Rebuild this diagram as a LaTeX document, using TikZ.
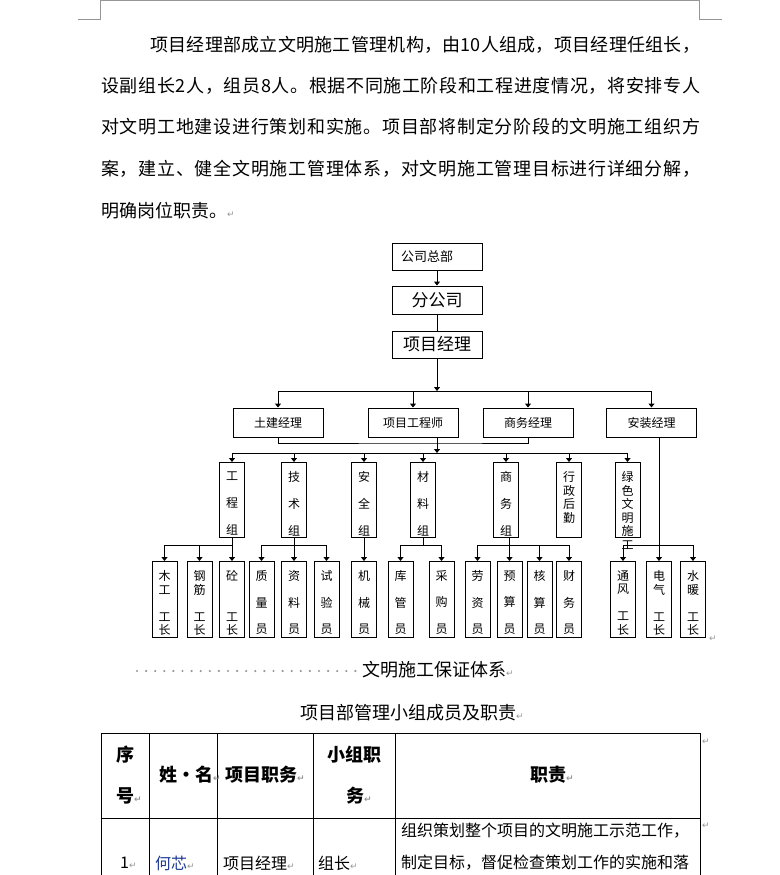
\documentclass[tikz,border=0pt]{standalone}
\usepackage{fontspec}
\usepackage{xcolor}
\usepackage{tikz}
\usetikzlibrary{arrows.meta}
\setmainfont{Noto Sans CJK SC}
\newfontfamily\symf{DejaVu Sans}
\definecolor{markgray}{RGB}{150,150,150}
\definecolor{nameblue}{RGB}{31,58,147}
\newcommand{\retmark}{{\symf\color{markgray}\fontsize{9pt}{9pt}\selectfont ↵}}
\newcommand{\vtext}[3]{\parbox[c][#1][t]{14pt}{\centering\fontsize{12pt}{#2}\selectfont\vspace*{9pt}#3}}
% spread the characters of a line over a given width
\def\spreadline#1#2{\hbox to #1{\spreadi#2\relax\unskip}}
\def\spreadi#1{\ifx\relax#1\else#1\hskip0pt plus 1fil\expandafter\spreadi\fi}

\tikzset{
  box/.style={draw, line width=1pt, inner sep=0pt},
  topbox/.style={box, minimum width=90pt},
  mgr/.style={box, minimum width=90pt, minimum height=29pt, font=\fontsize{12pt}{14pt}\selectfont},
  col/.style={box, inner xsep=5.5pt, inner ysep=0pt},
  ln/.style={line width=1pt},
  arr/.style={line width=1pt, -{Triangle[width=6pt,length=4pt]}},
  para/.style={anchor=west, inner sep=0pt, font=\fontsize{18pt}{20pt}\selectfont},
  thead/.style={anchor=west, inner sep=0pt, font=\fontsize{18pt}{20pt}\selectfont\bfseries},
  tcell/.style={anchor=west, inner sep=0pt, font=\fontsize{16pt}{18pt}\selectfont},
}

\begin{document}
\begin{tikzpicture}[x=1pt,y=-1pt]
\useasboundingbox (0,0) rectangle (779,875);
\fill[white] (0,0) rectangle (779,875);

% page corner marks
\draw[markgray, line width=0.8pt] (78,19) -- (100,19) -- (100,0.5) -- (699,0.5) -- (699,19) -- (722,19);

% paragraph
\node[para] (l1) at (150,45) {\spreadline{550pt}{项目经理部成立文明施工管理机构，由{10}人组成，项目经理任组长，}};
\node[para] (l2) at (101,86) {\spreadline{599pt}{设副组长{2}人，组员{8}人。根据不同施工阶段和工程进度情况，将安排专人}};
\node[para] (l3) at (101,127) {\spreadline{599pt}{对文明工地建设进行策划和实施。项目部将制定分阶段的文明施工组织方}};
\node[para] (l4) at (101,169) {\spreadline{599pt}{案，建立、健全文明施工管理体系，对文明施工管理目标进行详细分解，}};
\node[para] (l5) at (101,211) {明确岗位职责。\retmark};

% chart: top levels
\node[topbox, minimum height=27pt, text width=72pt, align=left, font=\fontsize{13pt}{15pt}\selectfont] (hq) at (437,256.5) {公司总部};
\node[topbox, minimum height=28pt, font=\fontsize{17pt}{19pt}\selectfont] (br) at (437,300) {分公司};
\node[topbox, minimum height=27pt, font=\fontsize{17pt}{19pt}\selectfont] (pm) at (437,344.5) {项目经理};
\draw[arr] (hq) -- (br);
\draw[ln] (br) -- (pm);

% managers
\node[mgr] (tj) at (278,422.5) {土建经理};
\node[mgr] (pe) at (413,422.5) {项目工程师};
\node[mgr] (sw) at (528,422.5) {商务经理};
\node[mgr] (az) at (651.5,422.5) {安装经理};
\coordinate (bus1) at (437,391);
\draw[arr] (pm) -- (bus1);
\foreach \m in {tj,pe,sw,az}
  \draw[arr] (bus1) -| (\m);

% groups
\node[col, anchor=north] (g1) at (232,462) {\vtext{75pt}{27pt}{工\\程\\组}};
\node[col, anchor=north] (g2) at (294,462) {\vtext{75pt}{27pt}{技\\术\\组}};
\node[col, anchor=north] (g3) at (364,462) {\vtext{75pt}{27pt}{安\\全\\组}};
\node[col, anchor=north] (g4) at (423,462) {\vtext{75pt}{27pt}{材\\料\\组}};
\node[col, anchor=north] (g5) at (506,462) {\vtext{75pt}{27pt}{商\\务\\组}};
\node[col, anchor=north] (g6) at (569,462) {\vtext{75pt}{13.6pt}{行\\政\\后\\勤}};
\node[col, anchor=north] (g7) at (627.5,462) {\vtext{75pt}{13.6pt}{绿\\色\\文\\明\\施\\工}};
\coordinate (jn) at (437,443);
\coordinate (bus2) at (437,453);
\draw[ln] (tj) |- (jn) -| (sw);
\draw[arr] (pe.south -| jn) -- (bus2);
\foreach \g in {g1,g2,g3,g4,g5,g6,g7}
  \draw[arr] (bus2) -| (\g);

% workers
\node[col, anchor=north] (w1) at (164.5,561) {\vtext{76pt}{13.5pt}{木\\工\\\mbox{}\\工\\长}};
\node[col, anchor=north] (w2) at (199.5,561) {\vtext{76pt}{13.5pt}{钢\\筋\\\mbox{}\\工\\长}};
\node[col, anchor=north] (w3) at (232,561) {\vtext{76pt}{13.5pt}{砼\\\mbox{}\\\mbox{}\\工\\长}};
\node[col, anchor=north] (t1) at (261.5,561) {\vtext{76pt}{26.5pt}{质\\量\\员}};
\node[col, anchor=north] (t2) at (294,561) {\vtext{76pt}{26.5pt}{资\\料\\员}};
\node[col, anchor=north] (t3) at (326.5,561) {\vtext{76pt}{26.5pt}{试\\验\\员}};
\node[col, anchor=north] (s1) at (364,561) {\vtext{76pt}{26.5pt}{机\\械\\员}};
\node[col, anchor=north] (m1) at (400.5,561) {\vtext{76pt}{26.5pt}{库\\管\\员}};
\node[col, anchor=north] (m2) at (441.5,561) {\vtext{76pt}{26.5pt}{采\\购\\员}};
\node[col, anchor=north] (c1) at (477.5,561) {\vtext{76pt}{26.5pt}{劳\\资\\员}};
\node[col, anchor=north] (c2) at (509.5,561) {\vtext{76pt}{26.5pt}{预\\算\\员}};
\node[col, anchor=north] (c3) at (539.5,561) {\vtext{76pt}{26.5pt}{核\\算\\员}};
\node[col, anchor=north] (c4) at (569,561) {\vtext{76pt}{26.5pt}{财\\务\\员}};
\node[col, anchor=north] (e1) at (623,561) {\vtext{76pt}{13.5pt}{通\\风\\\mbox{}\\工\\长}};
\node[col, anchor=north] (e2) at (659,561) {\vtext{76pt}{13.5pt}{电\\气\\\mbox{}\\工\\长}};
\node[col, anchor=north] (e3) at (693,561) {\vtext{76pt}{13.5pt}{水\\暖\\\mbox{}\\工\\长}};
\node[inner sep=0pt] (endmark) at (713,639) {\retmark};

\coordinate (j1) at (232,545);
\coordinate (j2) at (294,545);
\coordinate (j4) at (423,545);
\coordinate (j5) at (509.5,545);
\coordinate (bus3) at (659,545);
\draw[arr] (g1) -- (w3);
\draw[arr] (j1) -| (w1);
\draw[arr] (j1) -| (w2);
\draw[arr] (g2) -- (t2);
\draw[arr] (j2) -| (t1);
\draw[arr] (j2) -| (t3);
\draw[arr] (g3) -- (s1);
\draw[ln] (g4) -- (j4);
\draw[arr] (j4) -| (m1);
\draw[arr] (j4) -| (m2);
\draw[arr] (c2 |- g5.south) -- (c2);
\draw[arr] (j5) -| (c1);
\draw[arr] (j5) -| (c3);
\draw[arr] (j5) -| (c4);
\draw[arr] (az.south -| bus3) -- (e2);
\draw[arr] (bus3) -| (e1);
\draw[arr] (bus3) -| (e3);

% caption and title
\foreach \i in {0,...,24}
  \fill[markgray] (137+9.1*\i,671) circle (1.2pt);
\node[para] (cap) at (362,670) {文明施工保证体系\retmark};
\node[para] (ttl) at (300,713) {项目部管理小组成员及职责\retmark};

% table
\draw[ln] (101,733) -- (700,733);
\draw[ln] (101,818) -- (700,818);
\foreach \x in {101,149,217,313,395,700}
  \draw[ln] (\x,733) -- (\x,875);
\node[thead] (h1a) at (116,755) {序};
\node[thead] (h1b) at (116,796) {号\retmark};
\node[thead] (h2) at (159,775) {姓·名\retmark};
\node[thead] (h3) at (225,775) {项目职务\retmark};
\node[thead] (h4a) at (327,755) {小组职};
\node[thead] (h4b) at (346,796) {务\retmark};
\node[thead] (h5) at (530,775) {职责\retmark};
\node[inner sep=0pt] (rm1) at (706,742) {\retmark};
\node[inner sep=0pt] (rm2) at (706,826) {\retmark};

\node[tcell] (r1) at (120,863) {1\retmark};
\node[tcell, text=nameblue] (r2) at (155,863) {何芯\retmark};
\node[tcell] (r3) at (223,863) {项目经理\retmark};
\node[tcell] (r4) at (318,863) {组长\retmark};
\node[tcell] (r5a) at (401,831) {组织策划整个项目的文明施工示范工作，};
\node[tcell] (r5b) at (401,863) {制定目标，督促检查策划工作的实施和落};
\end{tikzpicture}
\end{document}
